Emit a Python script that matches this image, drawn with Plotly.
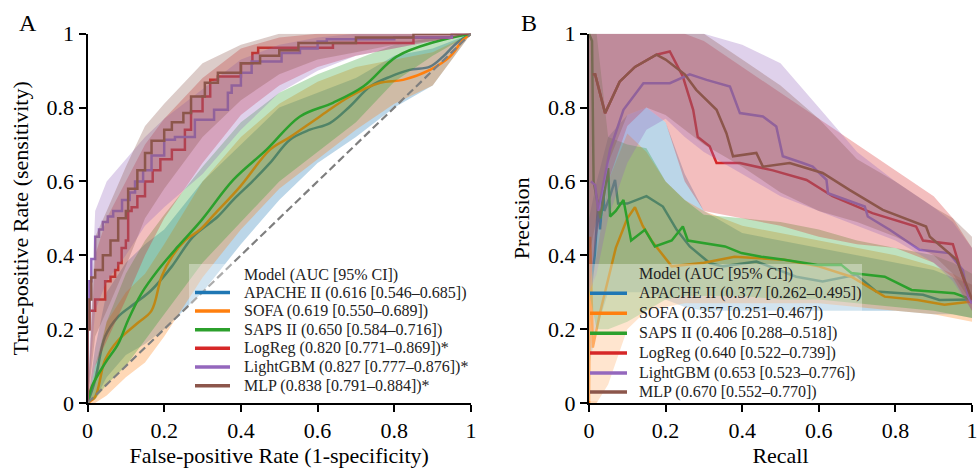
import plotly.graph_objects as go

# ---------------- data ----------------
MODELS = ["APACHE II", "SOFA", "SAPS II", "LogReg", "LightGBM", "MLP"]
COLORS = ["#1f77b4", "#ff7f0e", "#2ca02c", "#d62728", "#9467bd", "#8c564b"]
ROC_LABELS = ["APACHE II (0.616 [0.546–0.685])", "SOFA (0.619 [0.550–0.689])",
              "SAPS II (0.650 [0.584–0.716])", "LogReg (0.820 [0.771–0.869])*",
              "LightGBM (0.827 [0.777–0.876])*", "MLP (0.838 [0.791–0.884])*"]
PR_LABELS = ["APACHE II (0.377 [0.262–0.495])", "SOFA (0.357 [0.251–0.467])",
             "SAPS II (0.406 [0.288–0.518])", "LogReg (0.640 [0.522–0.739])",
             "LightGBM (0.653 [0.523–0.776])", "MLP (0.670 [0.552–0.770])"]
LEGEND_TITLE = "Model (AUC [95% CI])"
TICKS = [0, 0.2, 0.4, 0.6, 0.8, 1]
TICK_TEXT = ["0", "0.2", "0.4", "0.6", "0.8", "1"]

# ROC mean curves
roc_fpr_apache = [0, 0.02, 0.046, 0.08, 0.124, 0.167, 0.22, 0.275, 0.34, 0.38, 0.43, 0.476, 0.528, 0.58, 0.632, 0.684, 0.737, 0.79, 0.84, 0.893, 0.927, 0.963, 1.0]
roc_tpr_apache = [0, 0.062, 0.18, 0.234, 0.27, 0.306, 0.37, 0.45, 0.505, 0.55, 0.6, 0.65, 0.713, 0.74, 0.758, 0.803, 0.857, 0.884, 0.902, 0.911, 0.938, 0.975, 1.0]
roc_fpr_sofa = [0, 0.02, 0.046, 0.08, 0.13, 0.167, 0.193, 0.22, 0.254, 0.293, 0.33, 0.398, 0.476, 0.528, 0.606, 0.684, 0.763, 0.823, 0.893, 0.945, 0.98, 1.0]
roc_tpr_sofa = [0, 0.017, 0.117, 0.17, 0.216, 0.25, 0.342, 0.396, 0.44, 0.469, 0.51, 0.586, 0.686, 0.72, 0.776, 0.83, 0.867, 0.875, 0.902, 0.938, 0.984, 1.0]
roc_fpr_saps = [0, 0.011, 0.046, 0.08, 0.106, 0.141, 0.184, 0.236, 0.298, 0.38, 0.467, 0.554, 0.64, 0.719, 0.806, 0.91, 1.0]
roc_tpr_saps = [0, 0.044, 0.108, 0.16, 0.225, 0.297, 0.36, 0.424, 0.496, 0.604, 0.686, 0.776, 0.813, 0.857, 0.938, 0.979, 1.0]
roc_fpr_logreg = [0, 0.005, 0.01, 0.02, 0.03, 0.046, 0.06, 0.072, 0.08, 0.089, 0.1, 0.106, 0.115, 0.13, 0.15, 0.17, 0.19, 0.22, 0.254, 0.27, 0.3, 0.32, 0.34, 0.4, 0.43, 0.445, 0.46, 0.64, 0.66, 0.85, 0.86, 0.95, 1.0]
roc_tpr_logreg = [0, 0.2, 0.25, 0.25, 0.28, 0.28, 0.33, 0.342, 0.36, 0.379, 0.42, 0.44, 0.52, 0.53, 0.56, 0.6, 0.63, 0.66, 0.686, 0.74, 0.79, 0.83, 0.875, 0.884, 0.92, 0.948, 0.962, 0.962, 0.975, 0.975, 0.99, 0.99, 1.0]
roc_fpr_lgbm = [0, 0.005, 0.01, 0.02, 0.03, 0.04, 0.053, 0.067, 0.09, 0.11, 0.124, 0.145, 0.167, 0.2, 0.228, 0.28, 0.33, 0.366, 0.376, 0.4, 0.428, 0.506, 0.554, 0.6, 0.624, 0.8, 0.95, 1.0]
roc_tpr_lgbm = [0, 0.25, 0.33, 0.39, 0.45, 0.47, 0.49, 0.505, 0.52, 0.55, 0.57, 0.6, 0.63, 0.67, 0.713, 0.72, 0.767, 0.794, 0.84, 0.86, 0.894, 0.925, 0.948, 0.96, 0.979, 0.985, 0.99, 1.0]
roc_fpr_mlp = [0, 0.005, 0.01, 0.02, 0.04, 0.06, 0.08, 0.1, 0.106, 0.13, 0.15, 0.167, 0.2, 0.22, 0.25, 0.27, 0.306, 0.34, 0.4, 0.45, 0.5, 0.55, 0.7, 0.85, 1.0]
roc_tpr_mlp = [0, 0.2, 0.28, 0.34, 0.36, 0.4, 0.44, 0.5, 0.52, 0.58, 0.63, 0.677, 0.71, 0.74, 0.76, 0.785, 0.83, 0.867, 0.894, 0.92, 0.94, 0.955, 0.975, 0.99, 1.0]

# ROC confidence bands on a common FPR grid
roc_grid = [0, 0.02, 0.05, 0.1, 0.15, 0.2, 0.3, 0.4, 0.5, 0.6, 0.7, 0.8, 0.9, 1.0]
roc_lo_apache = [0, 0.01, 0.07, 0.13, 0.16, 0.2, 0.3, 0.43, 0.55, 0.65, 0.72, 0.8, 0.86, 1]
roc_hi_apache = [0, 0.15, 0.3, 0.38, 0.43, 0.47, 0.6, 0.7, 0.8, 0.84, 0.88, 0.94, 0.96, 1]
roc_lo_sofa = [0, 0, 0.02, 0.07, 0.11, 0.18, 0.34, 0.47, 0.58, 0.66, 0.74, 0.81, 0.86, 1]
roc_hi_sofa = [0, 0.08, 0.22, 0.3, 0.35, 0.43, 0.6, 0.72, 0.81, 0.87, 0.91, 0.93, 0.95, 1]
roc_lo_saps = [0, 0.01, 0.05, 0.1, 0.17, 0.24, 0.38, 0.49, 0.6, 0.68, 0.76, 0.87, 0.94, 1]
roc_hi_saps = [0, 0.1, 0.22, 0.35, 0.44, 0.51, 0.64, 0.76, 0.84, 0.89, 0.93, 0.97, 0.99, 1]
roc_lo_logreg = [0, 0.1, 0.17, 0.28, 0.4, 0.5, 0.65, 0.78, 0.86, 0.91, 0.94, 0.96, 0.98, 1]
roc_hi_logreg = [0, 0.4, 0.5, 0.6, 0.7, 0.77, 0.88, 0.96, 0.99, 1, 1, 1, 1, 1]
roc_lo_lgbm = [0, 0.25, 0.33, 0.4, 0.48, 0.53, 0.62, 0.74, 0.84, 0.9, 0.94, 0.96, 0.98, 1]
roc_hi_lgbm = [0, 0.52, 0.6, 0.66, 0.72, 0.77, 0.85, 0.93, 0.97, 0.99, 1, 1, 1, 1]
roc_lo_mlp = [0, 0.18, 0.25, 0.37, 0.5, 0.58, 0.72, 0.82, 0.89, 0.93, 0.95, 0.97, 0.98, 1]
roc_hi_mlp = [0, 0.45, 0.52, 0.64, 0.75, 0.81, 0.92, 0.97, 1, 1, 1, 1, 1, 1]

# PR mean curves
pr_rec_apache = [0, 0.003, 0.015, 0.024, 0.029, 0.037, 0.04, 0.055, 0.068, 0.076, 0.1, 0.15, 0.193, 0.229, 0.263, 0.315, 0.35, 0.437, 0.541, 0.61, 0.698, 0.75, 0.872, 0.915, 1.0]
pr_pre_apache = [0.3, 0.3, 0.4, 0.54, 0.47, 0.577, 0.52, 0.56, 0.604, 0.54, 0.54, 0.56, 0.532, 0.469, 0.424, 0.379, 0.37, 0.383, 0.342, 0.329, 0.347, 0.302, 0.293, 0.279, 0.28]
pr_rec_sofa = [0, 0.003, 0.01, 0.03, 0.07, 0.1, 0.12, 0.14, 0.163, 0.216, 0.3, 0.38, 0.51, 0.6, 0.685, 0.772, 0.858, 0.928, 1.0]
pr_pre_sofa = [0, 0.45, 0.15, 0.25, 0.42, 0.5, 0.53, 0.48, 0.44, 0.37, 0.38, 0.396, 0.388, 0.37, 0.342, 0.288, 0.279, 0.266, 0.275]
pr_rec_saps = [0, 0.008, 0.012, 0.03, 0.05, 0.055, 0.07, 0.09, 0.11, 0.146, 0.172, 0.216, 0.245, 0.258, 0.355, 0.398, 0.45, 0.51, 0.597, 0.659, 0.685, 0.772, 0.842, 0.954, 1.0]
pr_pre_saps = [1.0, 0.98, 0.6, 0.5, 0.636, 0.505, 0.52, 0.55, 0.44, 0.469, 0.424, 0.44, 0.478, 0.44, 0.424, 0.406, 0.396, 0.388, 0.374, 0.374, 0.352, 0.342, 0.306, 0.297, 0.28]
pr_rec_logreg = [0.01, 0.016, 0.042, 0.08, 0.12, 0.176, 0.211, 0.245, 0.272, 0.284, 0.315, 0.333, 0.394, 0.48, 0.568, 0.636, 0.74, 0.854, 0.872, 0.95, 0.976, 1.0]
pr_pre_logreg = [0.89, 0.89, 0.785, 0.87, 0.91, 0.943, 0.952, 0.884, 0.794, 0.72, 0.695, 0.65, 0.65, 0.63, 0.604, 0.56, 0.514, 0.478, 0.44, 0.43, 0.342, 0.27]
pr_rec_lgbm = [0.005, 0.016, 0.024, 0.055, 0.09, 0.142, 0.211, 0.263, 0.307, 0.368, 0.394, 0.454, 0.489, 0.506, 0.558, 0.584, 0.62, 0.624, 0.72, 0.728, 0.785, 0.863, 0.94, 0.976, 0.99, 1.0]
pr_pre_lgbm = [0.6, 0.59, 0.52, 0.686, 0.794, 0.866, 0.866, 0.89, 0.875, 0.857, 0.785, 0.776, 0.749, 0.668, 0.65, 0.64, 0.604, 0.568, 0.532, 0.505, 0.469, 0.415, 0.406, 0.36, 0.288, 0.27]
pr_rec_mlp = [0.01, 0.016, 0.042, 0.08, 0.12, 0.176, 0.2, 0.25, 0.28, 0.333, 0.359, 0.376, 0.437, 0.454, 0.524, 0.61, 0.68, 0.767, 0.88, 0.89, 0.96, 1.0]
pr_pre_mlp = [0.89, 0.89, 0.785, 0.87, 0.91, 0.943, 0.93, 0.89, 0.848, 0.794, 0.73, 0.668, 0.677, 0.64, 0.65, 0.623, 0.577, 0.523, 0.478, 0.45, 0.388, 0.28]

# PR confidence bands on a common recall grid
pr_grid = [0, 0.02, 0.05, 0.1, 0.15, 0.2, 0.25, 0.3, 0.4, 0.5, 0.6, 0.7, 0.8, 0.9, 0.95, 1.0]
pr_lo_apache = [0.1, 0.2, 0.3, 0.3, 0.3, 0.28, 0.26, 0.25, 0.25, 0.25, 0.25, 0.25, 0.25, 0.24, 0.24, 0.23]
pr_hi_apache = [0.5, 0.6, 0.72, 0.78, 0.8, 0.76, 0.62, 0.52, 0.46, 0.44, 0.42, 0.4, 0.38, 0.36, 0.34, 0.32]
pr_lo_sofa = [0, 0, 0.05, 0.2, 0.25, 0.26, 0.27, 0.27, 0.27, 0.27, 0.27, 0.26, 0.25, 0.24, 0.23, 0.22]
pr_hi_sofa = [0.3, 0.4, 0.6, 0.73, 0.68, 0.6, 0.55, 0.52, 0.48, 0.46, 0.44, 0.42, 0.4, 0.37, 0.35, 0.32]
pr_lo_saps = [0.3, 0.2, 0.2, 0.22, 0.25, 0.28, 0.29, 0.29, 0.29, 0.28, 0.28, 0.27, 0.26, 0.25, 0.24, 0.23]
pr_hi_saps = [1, 1, 0.72, 0.7, 0.69, 0.6, 0.55, 0.51, 0.5, 0.49, 0.47, 0.44, 0.42, 0.4, 0.38, 0.35]
pr_lo_logreg = [0.3, 0.45, 0.6, 0.75, 0.8, 0.76, 0.6, 0.52, 0.5, 0.48, 0.45, 0.43, 0.42, 0.38, 0.34, 0.25]
pr_hi_logreg = [1, 1, 1, 1, 1, 1, 1, 0.98, 0.91, 0.84, 0.77, 0.7, 0.63, 0.56, 0.5, 0.42]
pr_lo_lgbm = [0.3, 0.35, 0.5, 0.65, 0.74, 0.77, 0.72, 0.68, 0.62, 0.56, 0.52, 0.48, 0.44, 0.38, 0.33, 0.25]
pr_hi_lgbm = [1, 1, 1, 1, 1, 1, 1, 1, 0.97, 0.92, 0.8, 0.68, 0.6, 0.53, 0.49, 0.42]
pr_lo_mlp = [0.4, 0.5, 0.65, 0.78, 0.8, 0.78, 0.74, 0.7, 0.64, 0.57, 0.52, 0.49, 0.45, 0.4, 0.35, 0.27]
pr_hi_mlp = [1, 1, 1, 1, 1, 1, 1, 1, 0.93, 0.86, 0.77, 0.66, 0.6, 0.53, 0.5, 0.45]

# ---------------- build ----------------
W, H = 977, 470
FONT = "Liberation Serif"

roc_lines = [(roc_fpr_apache, roc_tpr_apache, "spline"), (roc_fpr_sofa, roc_tpr_sofa, "spline"),
             (roc_fpr_saps, roc_tpr_saps, "spline"), (roc_fpr_logreg, roc_tpr_logreg, "vh"),
             (roc_fpr_lgbm, roc_tpr_lgbm, "vh"), (roc_fpr_mlp, roc_tpr_mlp, "vh")]
roc_bands = [(roc_lo_apache, roc_hi_apache), (roc_lo_sofa, roc_hi_sofa), (roc_lo_saps, roc_hi_saps),
             (roc_lo_logreg, roc_hi_logreg), (roc_lo_lgbm, roc_hi_lgbm), (roc_lo_mlp, roc_hi_mlp)]
pr_lines = [(pr_rec_apache, pr_pre_apache), (pr_rec_sofa, pr_pre_sofa), (pr_rec_saps, pr_pre_saps),
            (pr_rec_logreg, pr_pre_logreg), (pr_rec_lgbm, pr_pre_lgbm), (pr_rec_mlp, pr_pre_mlp)]
pr_bands = [(pr_lo_apache, pr_hi_apache), (pr_lo_sofa, pr_hi_sofa), (pr_lo_saps, pr_hi_saps),
            (pr_lo_logreg, pr_hi_logreg), (pr_lo_lgbm, pr_hi_lgbm), (pr_lo_mlp, pr_hi_mlp)]


def rgba(hexc, a):
    h = hexc.lstrip("#")
    return "rgba(%d,%d,%d,%s)" % (int(h[0:2], 16), int(h[2:4], 16), int(h[4:6], 16), a)


fig = go.Figure()
for i, m in enumerate(MODELS):
    lo, hi = roc_bands[i]
    fig.add_trace(go.Scatter(x=roc_grid + roc_grid[::-1], y=hi + lo[::-1], fill="toself",
                             fillcolor=rgba(COLORS[i], 0.3), line=dict(width=0), mode="lines",
                             hoverinfo="skip", showlegend=False, xaxis="x", yaxis="y"))
    fx, ty, shp = roc_lines[i]
    fig.add_trace(go.Scatter(x=fx, y=ty, mode="lines", name=m, line=dict(color=COLORS[i], width=2.5, shape=shp),
                             showlegend=False, xaxis="x", yaxis="y"))
fig.add_trace(go.Scatter(x=[0, 1], y=[0, 1], mode="lines", line=dict(color="#7f7f7f", width=2.2, dash="8px,4px"),
                         showlegend=False, hoverinfo="skip", xaxis="x", yaxis="y"))

for i, m in enumerate(MODELS):
    lo, hi = pr_bands[i]
    fig.add_trace(go.Scatter(x=pr_grid + pr_grid[::-1], y=hi + lo[::-1], fill="toself",
                             fillcolor=rgba(COLORS[i], 0.3), line=dict(width=0), mode="lines",
                             hoverinfo="skip", showlegend=False, xaxis="x2", yaxis="y2"))
    rx, py = pr_lines[i]
    fig.add_trace(go.Scatter(x=rx, y=py, mode="lines", name=m, line=dict(color=COLORS[i], width=2.5),
                             showlegend=False, xaxis="x2", yaxis="y2"))

ax = dict(range=[0, 1], tickvals=TICKS, ticktext=TICK_TEXT, ticks="outside", ticklen=7, tickwidth=1.8,
          tickcolor="black", showline=True, linecolor="black", linewidth=2, showgrid=False, zeroline=False,
          tickfont=dict(family=FONT, size=22, color="black"), fixedrange=True, automargin=False,
          ticklabeloverflow="allow")
ydom = [67 / H, 436.3 / H]
fig.update_layout(
    width=W, height=H, margin=dict(l=0, r=0, t=0, b=0, autoexpand=False),
    paper_bgcolor="white", plot_bgcolor="white", showlegend=False,
    font=dict(family=FONT, color="black"),
    xaxis=dict(ax, domain=[87.5 / W, 471 / W], anchor="y",
               title=dict(text="False-positive Rate (1-specificity)", font=dict(family=FONT, size=22), standoff=4)),
    yaxis=dict(ax, domain=ydom, anchor="x",
               title=dict(text="True-positive Rate (sensitivity)", font=dict(family=FONT, size=22), standoff=12)),
    xaxis2=dict(ax, domain=[589 / W, 972 / W], anchor="y2",
                title=dict(text="Recall", font=dict(family=FONT, size=22), standoff=4)),
    yaxis2=dict(ax, domain=ydom, anchor="x2",
                title=dict(text="Precision", font=dict(family=FONT, size=22), standoff=12)),
)

# panel letters
for txt, px in [("A", 28), ("B", 529)]:
    fig.add_annotation(text=txt, x=px / W, y=1 - 23 / H, xref="paper", yref="paper", showarrow=False,
                       xanchor="center", yanchor="middle", font=dict(family=FONT, size=24, color="black"))

# legends (drawn as text + swatches)
legends = [
    dict(labels=ROC_LABELS, sw=(195, 230), tx=241.5, ty=275, rows=[292.5, 311, 329.7, 348.3, 367, 385.7],
         box=(189, 264, 470, 396)),
    dict(labels=PR_LABELS, sw=(590, 627), tx=636.5, ty=273.5, rows=[293.3, 313.3, 333.3, 353, 373, 392],
         box=(589, 264, 862, 401)),
]
for lg in legends:
    x0, y0, x1, y1 = lg["box"]
    fig.add_shape(type="rect", xref="paper", yref="paper", x0=x0 / W, x1=x1 / W, y0=1 - y1 / H, y1=1 - y0 / H,
                  fillcolor="rgba(255,255,255,0.35)", line=dict(width=0), layer="above")
    fig.add_annotation(text=LEGEND_TITLE, x=lg["tx"] / W, y=1 - lg["ty"] / H, xref="paper", yref="paper",
                       showarrow=False, xanchor="left", yanchor="middle", font=dict(family=FONT, size=16, color="#222"))
    for i, lab in enumerate(lg["labels"]):
        yy = 1 - lg["rows"][i] / H
        fig.add_shape(type="line", xref="paper", yref="paper", x0=lg["sw"][0] / W, x1=lg["sw"][1] / W, y0=yy, y1=yy,
                      line=dict(color=COLORS[i], width=3.5), layer="above")
        fig.add_annotation(text=lab, x=lg["tx"] / W, y=yy, xref="paper", yref="paper", showarrow=False,
                           xanchor="left", yanchor="middle", font=dict(family=FONT, size=16, color="#222"))

fig.write_html("out.html", config={"displayModeBar": False},
               post_script="document.body.style.margin='0';document.body.style.overflow='hidden';")
